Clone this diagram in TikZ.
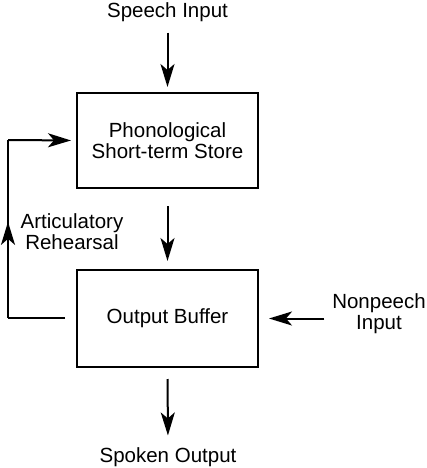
\documentclass[tikz,border=0pt]{standalone}
\usepackage{fontspec}
\setmainfont{Liberation Sans}
\usetikzlibrary{arrows.meta,decorations.markings}
\begin{document}
\begin{tikzpicture}[x=1pt,y=-1pt,line width=2pt,
  tip/.tip={Stealth[length=23pt,width=14pt,inset=6pt]},
  box/.style={draw,minimum width=181pt,align=center,inner sep=0pt,
    font=\fontsize{20.5}{21}\selectfont},
  lbl/.style={align=center,inner sep=0pt,font=\fontsize{20.5}{21}\selectfont},
  arr/.style={-tip},
  midarr/.style={postaction={decorate},decoration={markings,
    mark=at position 0.54 with {\arrow{tip}}}}]
\useasboundingbox (0,0) rectangle (427,468);
\node[box,minimum height=95pt] (pst) at (167.5,140.5) {Phonological\\Short-term Store};
\node[box,minimum height=97pt] (ob) at (167.5,318.5) {Output Buffer};
\node[lbl] (si) at (167.5,12) {Speech Input};
\node[lbl] (so) at (168,457) {Spoken Output};
\node[lbl] (ar) at (72,232) {Articulatory\\Rehearsal};
\node[lbl] (np) at (379,314) {Nonpeech\\Input};
\coordinate (c1) at (8,318);
\coordinate (c2) at (8,140);
\draw[arr,shorten <=10pt,shorten >=5pt] (si.south) -- (pst.north);
\draw[arr,shorten <=17pt,shorten >=8pt] (pst.south) -- (ob.north);
\draw[arr,shorten <=11pt,shorten >=11pt] (ob.south) -- (so.north);
\draw[arr,shorten <=7pt,shorten >=10pt] (np.west |- ob.east) -- (ob.east);
\draw ([xshift=-11pt]ob.west |- c1) -- (c1);
\draw[midarr] (c1) -- (c2);
\draw[arr,shorten >=5pt] (c2) -- (pst.west);
\end{tikzpicture}
\end{document}
